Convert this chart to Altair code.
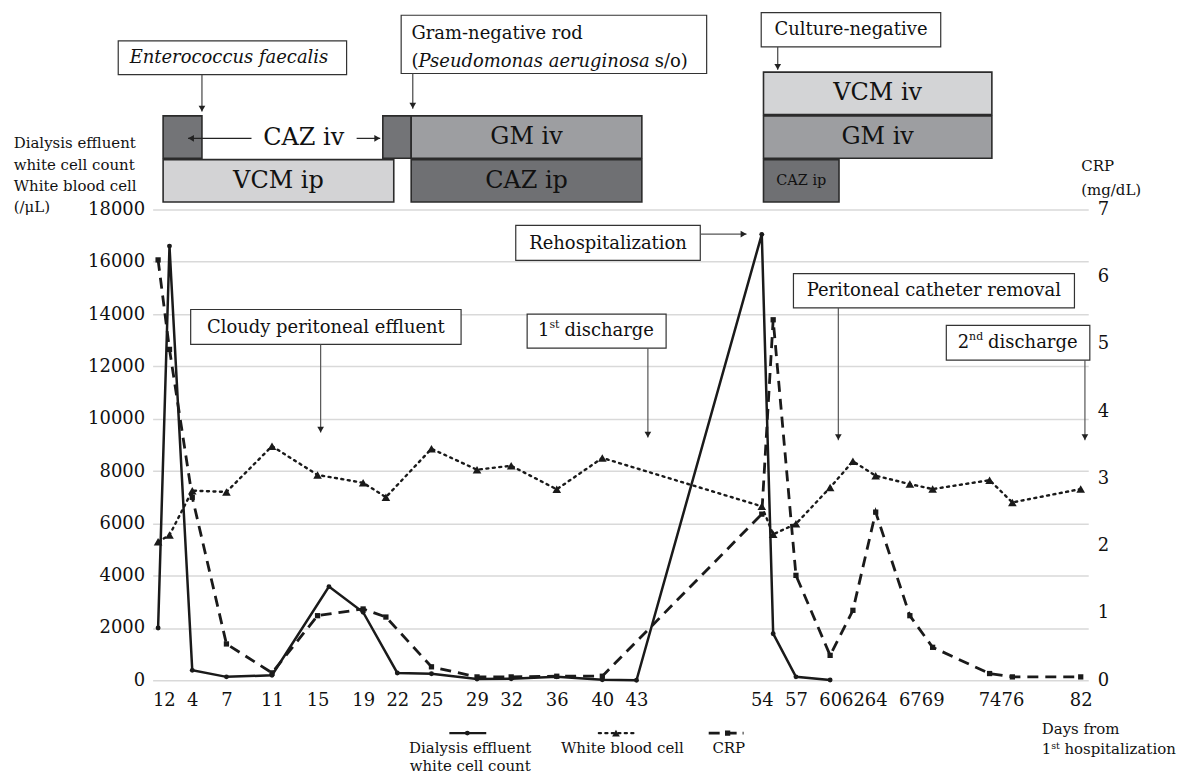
import altair as alt
import pandas as pd

FONT = "DejaVu Serif, Liberation Serif, serif"
INK = "#111111"

# ---------------- data ----------------
effluent_days = [1, 2, 4, 7, 11, 16, 19, 22, 25, 29, 32, 36, 40, 43, 54, 55, 57, 60]
effluent_vals = [2000, 16600, 380, 130, 190, 3580, 2600, 280, 250, 50, 60, 130, 20, 0,
                 17050, 1780, 130, 10]

wbc_days = [1, 2, 4, 7, 11, 15, 19, 21, 25, 29, 32, 36, 40, 54, 55, 57, 60, 62, 64, 67,
            69, 74, 76, 82]
wbc_vals = [5300, 5550, 7250, 7200, 8950, 7850, 7550, 7000, 8850, 8050, 8200, 7300, 8500,
            6650, 5580, 5980, 7370, 8370, 7820, 7500, 7310, 7650, 6800, 7310]

crp_days = [1, 2, 4, 7, 11, 15, 19, 21, 25, 29, 32, 36, 40, 54, 55, 57, 60, 62, 64, 67,
            69, 74, 76, 82]
crp_vals = [6.25, 4.92, 2.72, 0.54, 0.11, 0.96, 1.06, 0.94, 0.20, 0.05, 0.05, 0.06, 0.06,
            2.47, 5.36, 1.56, 0.37, 1.04, 2.50, 0.96, 0.49, 0.10, 0.05, 0.05]

tick_days = [1, 2, 4, 7, 11, 15, 19, 22, 25, 29, 32, 36, 40, 43, 54, 57, 60, 62, 64, 67,
             69, 74, 76, 82]
left_ticks = [0, 2000, 4000, 6000, 8000, 10000, 12000, 14000, 16000, 18000]
right_ticks = [0, 1, 2, 3, 4, 5, 6, 7]

# treatment bars (days)
tx_drug = ["CAZ iv", "VCM ip", "CAZ iv", "GM iv", "CAZ ip", "VCM iv", "GM iv", "CAZ ip"]
tx_label = ["", "VCM ip", "", "GM iv", "CAZ ip", "VCM iv", "GM iv", "CAZ ip"]
tx_row = [1, 0, 1, 1, 0, 2, 1, 0]
tx_start = [1.44, 1.44, 20.73, 23.22, 23.22, 54.15, 54.15, 54.15]
tx_end = [4.85, 21.69, 23.22, 43.47, 43.47, 74.2, 74.2, 60.78]
drug_domain = ["VCM ip", "VCM iv", "GM iv", "CAZ ip", "CAZ iv"]
drug_colors = ["#d3d3d5", "#d3d4d6", "#9d9ea1", "#6f7073", "#737477"]

# top annotation boxes (days / level units)
tbox_x1 = [-2.5, 22.34, 53.95]
tbox_x2 = [17.55, 49.16, 69.71]
tbox_y1 = [3.02, 3.048, 3.663]
tbox_y2 = [3.80, 4.393, 4.453]
tarrow_x = [4.85, 23.36, 55.4]
tarrow_y1 = [3.02, 3.048, 3.663]
tarrow_y2 = [2.17, 2.235, 3.133]

# main annotation boxes (days / cell counts)
box_x1 = [3.86, 33.4, 32.4, 56.78, 70.2]
box_x2 = [27.6, 45.6, 48.6, 81.45, 82.8]
box_y1 = [12840, 12700, 16055, 14235, 12240]
box_y2 = [14175, 14000, 17390, 15550, 13565]
note_text = ["Cloudy peritoneal effluent", "Rehospitalization", "Peritoneal catheter removal"]
note_day = [15.73, 40.5, 69.1]
note_val = [13473, 16665, 14890]
ord_num = ["1", "2"]
ord_sup = ["st", "nd"]
ord_num_day = [34.36, 71.2]
ord_sup_day = [35.36, 72.2]
ord_word_day = [36.68, 73.87]
ord_val = [13348, 12900]
varrow_x = [15.27, 44.0, 60.72, 82.37]
varrow_y1 = [12840, 12700, 14235, 12240]
varrow_y2 = [9470, 9280, 9180, 9180]
harrow_x1 = [48.6]
harrow_x2 = [52.66]
harrow_y = [17060]

# legend (days / cell counts below the axis)
leg_label = ["Dialysis effluent\nwhite cell count", "White blood cell", "CRP"]
leg_center = [28.4, 41.76, 51.1]
leg_x1 = [26.57, 39.7, 49.34]
leg_x2 = [29.81, 42.77, 52.4]
leg_mark = [28.15, 41.2, 51.0]
leg_sym_y = -2021
leg_text_y = -2785

# ---------------- scales / axes ----------------
W, H_TOP, H_MAIN = 938, 191, 472
xscale = alt.Scale(domain=[0.52, 82.66], nice=False, zero=False)
top_y = alt.Scale(domain=[0, 4.4], nice=False, zero=False)
yl_scale = alt.Scale(domain=[0, 18000], nice=False, zero=False)
yr_scale = alt.Scale(domain=[0, 7], nice=False, zero=False)

x_axis = alt.Axis(values=tick_days, grid=False, domain=False, ticks=False, tickSize=0,
                  labelPadding=11, labelFontSize=18, labelOverlap=False, labelFlush=False,
                  labelColor=INK, labelFont=FONT, title=None, format="d")
yl_axis = alt.Axis(values=left_ticks, orient="left", grid=True, gridColor="#d9d9d9",
                   gridWidth=1.5, domain=False, ticks=False, tickSize=0, labelPadding=8,
                   labelFontSize=18, labelColor=INK, labelFont=FONT, format="d",
                   title=["Dialysis effluent", "white cell count", "White blood cell", "(/\u03bcL)"],
                   titleAngle=0, titleAlign="left", titleBaseline="alphabetic",
                   titleX=-139.8, titleY=-62, titleFontSize=15, titleFontWeight="normal",
                   titleLineHeight=21.5, titleColor=INK, titleFont=FONT)
yr_axis = alt.Axis(values=right_ticks, orient="right", grid=False, domain=False, ticks=False,
                   tickSize=0, labelPadding=9, labelFontSize=18, labelColor=INK,
                   labelFont=FONT, format="d",
                   title=["CRP", "(mg/dL)"], titleAngle=0, titleAlign="left",
                   titleBaseline="alphabetic", titleX=-7.5, titleY=-39.5, titleFontSize=15,
                   titleFontWeight="normal", titleLineHeight=24, titleColor=INK,
                   titleFont=FONT)


# top panel: no axes at all
def XT(f):
    return alt.X(f"{f}:Q", scale=xscale, axis=None)


def YT(f):
    return alt.Y(f"{f}:Q", scale=top_y, axis=None)


# main panel: axis given once, other layers leave the axis unspecified (merged)
def XM(f):
    return alt.X(f"{f}:Q", scale=xscale)


def YL(f):
    return alt.Y(f"{f}:Q", scale=yl_scale)


# ---------------- top panel: treatments ----------------
tx_df = pd.DataFrame({"drug": tx_drug, "label": tx_label, "row": tx_row,
                      "start": tx_start, "end": tx_end})
tx_base = alt.Chart(tx_df).transform_calculate(
    y0="0.08 + 1.01*datum.row", y1="0.08 + 1.01*datum.row + 0.98",
    ym="0.08 + 1.01*datum.row + 0.49", xm="(datum.start + datum.end)/2")
tx_rects = tx_base.mark_rect(stroke="#2b2b2b", strokeWidth=1.6).encode(
    x=XT("start"), x2="end:Q", y=YT("y0"), y2="y1:Q",
    fill=alt.Fill("drug:N", scale=alt.Scale(domain=drug_domain, range=drug_colors),
                  legend=None))
tx_text = tx_base.mark_text(baseline="middle", align="center", color=INK, font=FONT).encode(
    x=XT("xm"), y=YT("ym"), text="label:N",
    size=alt.condition("datum.end - datum.start < 10", alt.value(14.5), alt.value(24)))

tbox_df = pd.DataFrame({"x1": tbox_x1, "x2": tbox_x2, "y1": tbox_y1, "y2": tbox_y2})
tboxes = alt.Chart(tbox_df).mark_rect(fill="white", stroke="#333", strokeWidth=1.2).encode(
    x=XT("x1"), x2="x2:Q", y=YT("y1"), y2="y2:Q")

ent_text = alt.Chart(pd.DataFrame({"t": ["Enterococcus faecalis"], "d": [7.22], "v": [3.41]})
                     ).mark_text(fontSize=18, fontStyle="italic", color=INK, font=FONT,
                                 baseline="middle").encode(x=XT("d"), y=YT("v"), text="t:N")
gram1 = alt.Chart(pd.DataFrame({"t": ["Gram-negative rod"], "d": [23.24], "v": [3.96]})
                  ).mark_text(fontSize=18, color=INK, font=FONT, baseline="middle",
                              align="left").encode(x=XT("d"), y=YT("v"), text="t:N")
gram2a = alt.Chart(pd.DataFrame({"t": ["("], "d": [23.24], "v": [3.32]})
                   ).mark_text(fontSize=18, color=INK, font=FONT, baseline="middle",
                               align="left").encode(x=XT("d"), y=YT("v"), text="t:N")
gram2b = alt.Chart(pd.DataFrame({"t": ["Pseudomonas aeruginosa"], "d": [23.86], "v": [3.32]})
                   ).mark_text(fontSize=18, fontStyle="italic", color=INK, font=FONT,
                               baseline="middle", align="left").encode(
    x=XT("d"), y=YT("v"), text="t:N")
gram2c = alt.Chart(pd.DataFrame({"t": ["s/o)"], "d": [44.6], "v": [3.32]})
                   ).mark_text(fontSize=18, color=INK, font=FONT, baseline="middle",
                               align="left").encode(x=XT("d"), y=YT("v"), text="t:N")
cult_text = alt.Chart(pd.DataFrame({"t": ["Culture-negative"], "d": [61.83], "v": [4.05]})
                      ).mark_text(fontSize=18, color=INK, font=FONT, baseline="middle"
                                  ).encode(x=XT("d"), y=YT("v"), text="t:N")

tarrow_df = pd.DataFrame({"x": tarrow_x, "y1": tarrow_y1, "y2": tarrow_y2})
tarrows = alt.Chart(tarrow_df).mark_rule(color="#444", strokeWidth=1.2).encode(
    x=XT("x"), y=YT("y1"), y2="y2:Q")
theads = alt.Chart(tarrow_df).mark_point(shape="triangle-down", filled=True, size=45,
                                         color="#222", opacity=1).encode(
    x=XT("x"), y=YT("y2"), yOffset=alt.value(-3))

caz_text = alt.Chart(pd.DataFrame({"t": ["CAZ iv"], "d": [13.78], "v": [1.55]})
                     ).mark_text(fontSize=24, color=INK, font=FONT, baseline="middle"
                                 ).encode(x=XT("d"), y=YT("v"), text="t:N")
caz_arrow_df = pd.DataFrame({"x1": [9.2, 18.43], "x2": [3.63, 20.5], "y": [1.55, 1.55]})
caz_arrows = alt.Chart(caz_arrow_df).mark_rule(color="#222", strokeWidth=1.2).encode(
    x=XT("x1"), x2="x2:Q", y=YT("y"))
caz_head_l = alt.Chart(caz_arrow_df.iloc[[0]]).mark_point(
    shape="triangle-left", filled=True, size=45, color="#222", opacity=1).encode(
    x=XT("x2"), y=YT("y"), xOffset=alt.value(3))
caz_head_r = alt.Chart(caz_arrow_df.iloc[[1]]).mark_point(
    shape="triangle-right", filled=True, size=45, color="#222", opacity=1).encode(
    x=XT("x2"), y=YT("y"), xOffset=alt.value(-3))

top = alt.layer(tx_rects, tx_text, tboxes, ent_text, gram1, gram2a, gram2b, gram2c,
                cult_text, tarrows, theads, caz_arrows, caz_head_l, caz_head_r, caz_text
                ).properties(width=W, height=H_TOP)

# ---------------- main panel ----------------
eff_df = pd.DataFrame({"day": effluent_days, "value": effluent_vals})
wbc_df = pd.DataFrame({"day": wbc_days, "value": wbc_vals})
crp_df = pd.DataFrame({"day": crp_days, "crp": crp_vals})

eff_line = alt.Chart(eff_df).mark_line(color="#1a1a1a", strokeWidth=2.5).encode(
    x=alt.X("day:Q", scale=xscale, axis=x_axis),
    y=alt.Y("value:Q", scale=yl_scale, axis=yl_axis))
eff_pts = alt.Chart(eff_df).mark_point(shape="circle", filled=True, size=24,
                                       color="#1a1a1a", opacity=1).encode(
    x=XM("day"), y=YL("value"))
wbc_line = alt.Chart(wbc_df).mark_line(color="#1a1a1a", strokeWidth=2.4,
                                       strokeDash=[2, 4.5], strokeCap="round").encode(
    x=XM("day"), y=YL("value"))
wbc_pts = alt.Chart(wbc_df).mark_point(shape="triangle-up", filled=True, size=75,
                                       color="#1a1a1a", opacity=1).encode(
    x=XM("day"), y=YL("value"))

box_df = pd.DataFrame({"x1": box_x1, "x2": box_x2, "y1": box_y1, "y2": box_y2})
boxes = alt.Chart(box_df).mark_rect(fill="white", stroke="#333", strokeWidth=1.2).encode(
    x=XM("x1"), x2="x2:Q", y=YL("y1"), y2="y2:Q")
notes = alt.Chart(pd.DataFrame({"t": note_text, "d": note_day, "v": note_val})).mark_text(
    fontSize=18, color=INK, font=FONT, baseline="middle").encode(
    x=XM("d"), y=YL("v"), text="t:N")
ord_df = pd.DataFrame({"num": ord_num, "sup": ord_sup, "dn": ord_num_day,
                       "ds": ord_sup_day, "dw": ord_word_day, "v": ord_val,
                       "w": ["discharge", "discharge"]})
ord_num_t = alt.Chart(ord_df).mark_text(fontSize=18, color=INK, font=FONT,
                                        baseline="middle", align="left").encode(
    x=XM("dn"), y=YL("v"), text="num:N")
ord_sup_t = alt.Chart(ord_df).mark_text(fontSize=11, color=INK, font=FONT, dy=-6,
                                        baseline="middle", align="left").encode(
    x=XM("ds"), y=YL("v"), text="sup:N")
ord_word_t = alt.Chart(ord_df).mark_text(fontSize=18, color=INK, font=FONT,
                                         baseline="middle", align="left").encode(
    x=XM("dw"), y=YL("v"), text="w:N")

va_df = pd.DataFrame({"x": varrow_x, "y1": varrow_y1, "y2": varrow_y2})
varrows = alt.Chart(va_df).mark_rule(color="#555", strokeWidth=1.2).encode(
    x=XM("x"), y=YL("y1"), y2="y2:Q")
vheads = alt.Chart(va_df).mark_point(shape="triangle-down", filled=True, size=45,
                                     color="#222", opacity=1).encode(
    x=XM("x"), y=YL("y2"), yOffset=alt.value(-3))
ha_df = pd.DataFrame({"x1": harrow_x1, "x2": harrow_x2, "y": harrow_y})
harrows = alt.Chart(ha_df).mark_rule(color="#555", strokeWidth=1.2).encode(
    x=XM("x1"), x2="x2:Q", y=YL("y"))
hheads = alt.Chart(ha_df).mark_point(shape="triangle-right", filled=True, size=45,
                                     color="#222", opacity=1).encode(
    x=XM("x2"), y=YL("y"), xOffset=alt.value(-3))

# legend + x caption below the axis
leg_df = pd.DataFrame({"label": leg_label, "c": leg_center, "x1": leg_x1, "x2": leg_x2,
                       "m": leg_mark, "sy": [leg_sym_y] * 3, "ty": [leg_text_y] * 3})
leg_text = alt.Chart(leg_df).mark_text(fontSize=15, color=INK, font=FONT, lineBreak="\n",
                                       lineHeight=18, baseline="alphabetic").encode(
    x=XM("c"), y=YL("ty"), text="label:N")
leg_eff = alt.Chart(leg_df.iloc[[0]]).mark_rule(color="#1a1a1a", strokeWidth=2.5).encode(
    x=XM("x1"), x2="x2:Q", y=YL("sy"))
leg_eff_p = alt.Chart(leg_df.iloc[[0]]).mark_point(shape="circle", filled=True, size=24,
                                                   color="#1a1a1a", opacity=1).encode(
    x=XM("m"), y=YL("sy"))
leg_wbc = alt.Chart(leg_df.iloc[[1]]).mark_rule(color="#1a1a1a", strokeWidth=2.4,
                                                strokeDash=[2, 4.5], strokeCap="round"
                                                ).encode(x=XM("x1"), x2="x2:Q", y=YL("sy"))
leg_wbc_p = alt.Chart(leg_df.iloc[[1]]).mark_point(shape="triangle-up", filled=True,
                                                   size=60, color="#1a1a1a", opacity=1
                                                   ).encode(x=XM("m"), y=YL("sy"))
leg_crp = alt.Chart(leg_df.iloc[[2]]).mark_rule(color="#1a1a1a", strokeWidth=2.8,
                                                strokeDash=[11, 6]).encode(
    x=XM("x1"), x2="x2:Q", y=YL("sy"))
leg_crp_p = alt.Chart(leg_df.iloc[[2]]).mark_point(shape="square", filled=True, size=28,
                                                   color="#1a1a1a", opacity=1).encode(
    x=XM("m"), y=YL("sy"))

cap_df = pd.DataFrame({"t": ["Days from", "1", "st", "hospitalization"],
                       "d": [78.58, 78.58, 79.41, 80.57],
                       "v": [-2040, -2803, -2803, -2803]})
cap_main = alt.Chart(cap_df[cap_df["t"] != "st"]).mark_text(
    fontSize=15, color=INK, font=FONT, align="left", baseline="alphabetic").encode(
    x=XM("d"), y=YL("v"), text="t:N")
cap_sup = alt.Chart(cap_df[cap_df["t"] == "st"]).mark_text(
    fontSize=9.5, color=INK, font=FONT, align="left", baseline="alphabetic", dy=-5).encode(
    x=XM("d"), y=YL("v"), text="t:N")

left_group = alt.layer(eff_line, boxes, notes, ord_num_t, ord_sup_t, ord_word_t,
                       varrows, vheads, harrows, hheads,
                       eff_pts, wbc_line, wbc_pts,
                       leg_text, leg_eff, leg_eff_p, leg_wbc, leg_wbc_p, leg_crp, leg_crp_p,
                       cap_main, cap_sup)

crp_line = alt.Chart(crp_df).mark_line(color="#1a1a1a", strokeWidth=2.8,
                                       strokeDash=[11, 7]).encode(
    x=XM("day"), y=alt.Y("crp:Q", scale=yr_scale, axis=yr_axis))
crp_pts = alt.Chart(crp_df).mark_point(shape="square", filled=True, size=28,
                                       color="#1a1a1a", opacity=1).encode(
    x=XM("day"), y=alt.Y("crp:Q", scale=yr_scale))
right_group = alt.layer(crp_line, crp_pts)

main = alt.layer(left_group, right_group).resolve_scale(y="independent").properties(
    width=W, height=H_MAIN)

chart = alt.vconcat(top, main, spacing=4, bounds="flush").properties(
    padding={"left": 5, "top": 3, "right": 2, "bottom": 2},
    background="white",
).configure(font=FONT).configure_view(stroke=None)

chart.save("out.html", embed_options={"renderer": "svg", "actions": False})
